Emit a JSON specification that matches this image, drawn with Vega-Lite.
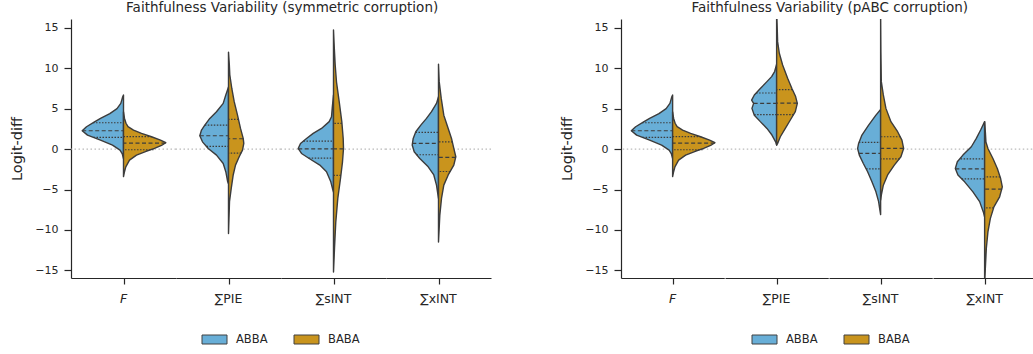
{
"$schema": "https://vega.github.io/schema/vega-lite/v6.json",
"padding": {"left": 9, "top": 0, "right": 0, "bottom": 0},
"background": "white",
"config": {
  "view": {"stroke": null},
  "font": "DejaVu Sans",
  "title": {"fontSize": 13.5, "fontWeight": "normal", "color": "#262626", "anchor": "middle", "offset": 5, "dx": 31.5},
  "axis": {"grid": false, "domainColor": "#262626", "tickColor": "#262626", "labelColor": "#262626", "titleColor": "#262626", "domainWidth": 1.2, "tickWidth": 1.2}
},
"datasets": {"v": [
{"panel":"sym","cat":"F","group":"ABBA","kind":"o","value":6.7,"density":0},
{"panel":"sym","cat":"F","group":"ABBA","kind":"o","value":6.4,"density":-1},
{"panel":"sym","cat":"F","group":"ABBA","kind":"o","value":5.66,"density":-2.7},
{"panel":"sym","cat":"F","group":"ABBA","kind":"o","value":5.0,"density":-6.5},
{"panel":"sym","cat":"F","group":"ABBA","kind":"o","value":4.4,"density":-13.7},
{"panel":"sym","cat":"F","group":"ABBA","kind":"o","value":3.8,"density":-23},
{"panel":"sym","cat":"F","group":"ABBA","kind":"o","value":3.38,"density":-29},
{"panel":"sym","cat":"F","group":"ABBA","kind":"o","value":2.77,"density":-37},
{"panel":"sym","cat":"F","group":"ABBA","kind":"o","value":2.27,"density":-41.3},
{"panel":"sym","cat":"F","group":"ABBA","kind":"o","value":1.73,"density":-36},
{"panel":"sym","cat":"F","group":"ABBA","kind":"o","value":1.12,"density":-23},
{"panel":"sym","cat":"F","group":"ABBA","kind":"o","value":0.5,"density":-11},
{"panel":"sym","cat":"F","group":"ABBA","kind":"o","value":-0.12,"density":-3.5},
{"panel":"sym","cat":"F","group":"ABBA","kind":"o","value":-0.6,"density":-1.2},
{"panel":"sym","cat":"F","group":"ABBA","kind":"o","value":-1.16,"density":0},
{"panel":"sym","cat":"F","group":"ABBA","kind":"q","value":3.26,"density":-30.5},
{"panel":"sym","cat":"F","group":"ABBA","kind":"med","value":2.27,"density":-41.3},
{"panel":"sym","cat":"F","group":"ABBA","kind":"q","value":1.45,"density":-30},
{"panel":"sym","cat":"F","group":"BABA","kind":"o","value":4.6,"density":0},
{"panel":"sym","cat":"F","group":"BABA","kind":"o","value":3.8,"density":1},
{"panel":"sym","cat":"F","group":"BABA","kind":"o","value":3.2,"density":2.5},
{"panel":"sym","cat":"F","group":"BABA","kind":"o","value":2.77,"density":4.5},
{"panel":"sym","cat":"F","group":"BABA","kind":"o","value":2.36,"density":10},
{"panel":"sym","cat":"F","group":"BABA","kind":"o","value":1.94,"density":18},
{"panel":"sym","cat":"F","group":"BABA","kind":"o","value":1.53,"density":28},
{"panel":"sym","cat":"F","group":"BABA","kind":"o","value":1.12,"density":37},
{"panel":"sym","cat":"F","group":"BABA","kind":"o","value":0.79,"density":42.3},
{"panel":"sym","cat":"F","group":"BABA","kind":"o","value":0.45,"density":38},
{"panel":"sym","cat":"F","group":"BABA","kind":"o","value":0.1,"density":31},
{"panel":"sym","cat":"F","group":"BABA","kind":"o","value":-0.3,"density":22},
{"panel":"sym","cat":"F","group":"BABA","kind":"o","value":-0.74,"density":13},
{"panel":"sym","cat":"F","group":"BABA","kind":"o","value":-1.36,"density":6},
{"panel":"sym","cat":"F","group":"BABA","kind":"o","value":-2.19,"density":2.3},
{"panel":"sym","cat":"F","group":"BABA","kind":"o","value":-2.8,"density":1},
{"panel":"sym","cat":"F","group":"BABA","kind":"o","value":-3.4,"density":0},
{"panel":"sym","cat":"F","group":"BABA","kind":"q","value":1.55,"density":28.5},
{"panel":"sym","cat":"F","group":"BABA","kind":"med","value":0.75,"density":42},
{"panel":"sym","cat":"F","group":"BABA","kind":"q","value":-0.08,"density":30},
{"panel":"sym","cat":"∑PIE","group":"ABBA","kind":"o","value":7.7,"density":0},
{"panel":"sym","cat":"∑PIE","group":"ABBA","kind":"o","value":6.7,"density":-2.7},
{"panel":"sym","cat":"∑PIE","group":"ABBA","kind":"o","value":5.66,"density":-5.3},
{"panel":"sym","cat":"∑PIE","group":"ABBA","kind":"o","value":4.63,"density":-12},
{"panel":"sym","cat":"∑PIE","group":"ABBA","kind":"o","value":3.8,"density":-18.7},
{"panel":"sym","cat":"∑PIE","group":"ABBA","kind":"o","value":2.97,"density":-23.7},
{"panel":"sym","cat":"∑PIE","group":"ABBA","kind":"o","value":2.36,"density":-27},
{"panel":"sym","cat":"∑PIE","group":"ABBA","kind":"o","value":1.65,"density":-28.7},
{"panel":"sym","cat":"∑PIE","group":"ABBA","kind":"o","value":0.9,"density":-26},
{"panel":"sym","cat":"∑PIE","group":"ABBA","kind":"o","value":0.08,"density":-20.3},
{"panel":"sym","cat":"∑PIE","group":"ABBA","kind":"o","value":-0.74,"density":-12},
{"panel":"sym","cat":"∑PIE","group":"ABBA","kind":"o","value":-1.78,"density":-5.3},
{"panel":"sym","cat":"∑PIE","group":"ABBA","kind":"o","value":-2.8,"density":-2.7},
{"panel":"sym","cat":"∑PIE","group":"ABBA","kind":"o","value":-4.05,"density":-0.8},
{"panel":"sym","cat":"∑PIE","group":"ABBA","kind":"o","value":-4.3,"density":0},
{"panel":"sym","cat":"∑PIE","group":"ABBA","kind":"q","value":2.97,"density":-23.7},
{"panel":"sym","cat":"∑PIE","group":"ABBA","kind":"med","value":1.65,"density":-28.7},
{"panel":"sym","cat":"∑PIE","group":"ABBA","kind":"q","value":0.33,"density":-22},
{"panel":"sym","cat":"∑PIE","group":"BABA","kind":"o","value":12.0,"density":0},
{"panel":"sym","cat":"∑PIE","group":"BABA","kind":"o","value":10.5,"density":0.8},
{"panel":"sym","cat":"∑PIE","group":"BABA","kind":"o","value":9.2,"density":1.3},
{"panel":"sym","cat":"∑PIE","group":"BABA","kind":"o","value":7.5,"density":3.3},
{"panel":"sym","cat":"∑PIE","group":"BABA","kind":"o","value":5.87,"density":5.7},
{"panel":"sym","cat":"∑PIE","group":"BABA","kind":"o","value":4.2,"density":9},
{"panel":"sym","cat":"∑PIE","group":"BABA","kind":"o","value":2.56,"density":12},
{"panel":"sym","cat":"∑PIE","group":"BABA","kind":"o","value":1.32,"density":14.7},
{"panel":"sym","cat":"∑PIE","group":"BABA","kind":"o","value":0.7,"density":15.3},
{"panel":"sym","cat":"∑PIE","group":"BABA","kind":"o","value":-0.12,"density":14},
{"panel":"sym","cat":"∑PIE","group":"BABA","kind":"o","value":-0.95,"density":10.7},
{"panel":"sym","cat":"∑PIE","group":"BABA","kind":"o","value":-1.98,"density":7},
{"panel":"sym","cat":"∑PIE","group":"BABA","kind":"o","value":-3.2,"density":4.7},
{"panel":"sym","cat":"∑PIE","group":"BABA","kind":"o","value":-4.9,"density":2.7},
{"panel":"sym","cat":"∑PIE","group":"BABA","kind":"o","value":-6.5,"density":1},
{"panel":"sym","cat":"∑PIE","group":"BABA","kind":"o","value":-8.5,"density":0.5},
{"panel":"sym","cat":"∑PIE","group":"BABA","kind":"o","value":-10.45,"density":0},
{"panel":"sym","cat":"∑PIE","group":"BABA","kind":"q","value":3.68,"density":10},
{"panel":"sym","cat":"∑PIE","group":"BABA","kind":"med","value":1.28,"density":14.7},
{"panel":"sym","cat":"∑PIE","group":"BABA","kind":"q","value":-0.5,"density":12.7},
{"panel":"sym","cat":"∑sINT","group":"ABBA","kind":"o","value":6.7,"density":0},
{"panel":"sym","cat":"∑sINT","group":"ABBA","kind":"o","value":5.04,"density":-1.3},
{"panel":"sym","cat":"∑sINT","group":"ABBA","kind":"o","value":4.0,"density":-2},
{"panel":"sym","cat":"∑sINT","group":"ABBA","kind":"o","value":3.4,"density":-4.3},
{"panel":"sym","cat":"∑sINT","group":"ABBA","kind":"o","value":2.56,"density":-12},
{"panel":"sym","cat":"∑sINT","group":"ABBA","kind":"o","value":1.94,"density":-20.3},
{"panel":"sym","cat":"∑sINT","group":"ABBA","kind":"o","value":1.32,"density":-27},
{"panel":"sym","cat":"∑sINT","group":"ABBA","kind":"o","value":0.7,"density":-33},
{"panel":"sym","cat":"∑sINT","group":"ABBA","kind":"o","value":0.08,"density":-35.3},
{"panel":"sym","cat":"∑sINT","group":"ABBA","kind":"o","value":-0.54,"density":-32},
{"panel":"sym","cat":"∑sINT","group":"ABBA","kind":"o","value":-1.16,"density":-24.3},
{"panel":"sym","cat":"∑sINT","group":"ABBA","kind":"o","value":-1.98,"density":-13.7},
{"panel":"sym","cat":"∑sINT","group":"ABBA","kind":"o","value":-2.8,"density":-7},
{"panel":"sym","cat":"∑sINT","group":"ABBA","kind":"o","value":-4.05,"density":-2.7},
{"panel":"sym","cat":"∑sINT","group":"ABBA","kind":"o","value":-4.9,"density":-1},
{"panel":"sym","cat":"∑sINT","group":"ABBA","kind":"o","value":-5.3,"density":0},
{"panel":"sym","cat":"∑sINT","group":"ABBA","kind":"q","value":0.99,"density":-30},
{"panel":"sym","cat":"∑sINT","group":"ABBA","kind":"med","value":0.04,"density":-35.3},
{"panel":"sym","cat":"∑sINT","group":"ABBA","kind":"q","value":-1.12,"density":-24.8},
{"panel":"sym","cat":"∑sINT","group":"BABA","kind":"o","value":14.75,"density":0},
{"panel":"sym","cat":"∑sINT","group":"BABA","kind":"o","value":12.5,"density":0.8},
{"panel":"sym","cat":"∑sINT","group":"BABA","kind":"o","value":10.4,"density":1.7},
{"panel":"sym","cat":"∑sINT","group":"BABA","kind":"o","value":8.3,"density":3},
{"panel":"sym","cat":"∑sINT","group":"BABA","kind":"o","value":5.87,"density":5.7},
{"panel":"sym","cat":"∑sINT","group":"BABA","kind":"o","value":3.4,"density":8.3},
{"panel":"sym","cat":"∑sINT","group":"BABA","kind":"o","value":1.32,"density":9.7},
{"panel":"sym","cat":"∑sINT","group":"BABA","kind":"o","value":0.08,"density":10},
{"panel":"sym","cat":"∑sINT","group":"BABA","kind":"o","value":-1.57,"density":9},
{"panel":"sym","cat":"∑sINT","group":"BABA","kind":"o","value":-3.64,"density":7},
{"panel":"sym","cat":"∑sINT","group":"BABA","kind":"o","value":-6.1,"density":4.3},
{"panel":"sym","cat":"∑sINT","group":"BABA","kind":"o","value":-9.0,"density":2.3},
{"panel":"sym","cat":"∑sINT","group":"BABA","kind":"o","value":-12.3,"density":1},
{"panel":"sym","cat":"∑sINT","group":"BABA","kind":"o","value":-15.2,"density":0},
{"panel":"sym","cat":"∑sINT","group":"BABA","kind":"q","value":3.18,"density":8.4},
{"panel":"sym","cat":"∑sINT","group":"BABA","kind":"med","value":0.04,"density":10},
{"panel":"sym","cat":"∑sINT","group":"BABA","kind":"q","value":-3.26,"density":7.4},
{"panel":"sym","cat":"∑xINT","group":"ABBA","kind":"o","value":6.5,"density":0},
{"panel":"sym","cat":"∑xINT","group":"ABBA","kind":"o","value":5.66,"density":-2},
{"panel":"sym","cat":"∑xINT","group":"ABBA","kind":"o","value":4.63,"density":-7},
{"panel":"sym","cat":"∑xINT","group":"ABBA","kind":"o","value":3.8,"density":-12},
{"panel":"sym","cat":"∑xINT","group":"ABBA","kind":"o","value":2.97,"density":-17.7},
{"panel":"sym","cat":"∑xINT","group":"ABBA","kind":"o","value":2.15,"density":-22.7},
{"panel":"sym","cat":"∑xINT","group":"ABBA","kind":"o","value":1.32,"density":-25.3},
{"panel":"sym","cat":"∑xINT","group":"ABBA","kind":"o","value":0.5,"density":-26.3},
{"panel":"sym","cat":"∑xINT","group":"ABBA","kind":"o","value":-0.33,"density":-24.3},
{"panel":"sym","cat":"∑xINT","group":"ABBA","kind":"o","value":-1.16,"density":-18.7},
{"panel":"sym","cat":"∑xINT","group":"ABBA","kind":"o","value":-2.19,"density":-10.3},
{"panel":"sym","cat":"∑xINT","group":"ABBA","kind":"o","value":-3.2,"density":-4.7},
{"panel":"sym","cat":"∑xINT","group":"ABBA","kind":"o","value":-4.46,"density":-2},
{"panel":"sym","cat":"∑xINT","group":"ABBA","kind":"o","value":-5.3,"density":-1},
{"panel":"sym","cat":"∑xINT","group":"ABBA","kind":"o","value":-6.1,"density":0},
{"panel":"sym","cat":"∑xINT","group":"ABBA","kind":"q","value":2.07,"density":-23},
{"panel":"sym","cat":"∑xINT","group":"ABBA","kind":"med","value":0.7,"density":-26.2},
{"panel":"sym","cat":"∑xINT","group":"ABBA","kind":"q","value":-0.7,"density":-22},
{"panel":"sym","cat":"∑xINT","group":"BABA","kind":"o","value":10.5,"density":0},
{"panel":"sym","cat":"∑xINT","group":"BABA","kind":"o","value":8.35,"density":0.7},
{"panel":"sym","cat":"∑xINT","group":"BABA","kind":"o","value":6.3,"density":2.7},
{"panel":"sym","cat":"∑xINT","group":"BABA","kind":"o","value":4.2,"density":5.3},
{"panel":"sym","cat":"∑xINT","group":"BABA","kind":"o","value":2.56,"density":9.7},
{"panel":"sym","cat":"∑xINT","group":"BABA","kind":"o","value":1.32,"density":13},
{"panel":"sym","cat":"∑xINT","group":"BABA","kind":"o","value":0.08,"density":15.3},
{"panel":"sym","cat":"∑xINT","group":"BABA","kind":"o","value":-0.95,"density":17.3},
{"panel":"sym","cat":"∑xINT","group":"BABA","kind":"o","value":-1.98,"density":15.3},
{"panel":"sym","cat":"∑xINT","group":"BABA","kind":"o","value":-3.2,"density":9.7},
{"panel":"sym","cat":"∑xINT","group":"BABA","kind":"o","value":-4.46,"density":5.3},
{"panel":"sym","cat":"∑xINT","group":"BABA","kind":"o","value":-6.1,"density":3},
{"panel":"sym","cat":"∑xINT","group":"BABA","kind":"o","value":-8.2,"density":1.3},
{"panel":"sym","cat":"∑xINT","group":"BABA","kind":"o","value":-10,"density":0.6},
{"panel":"sym","cat":"∑xINT","group":"BABA","kind":"o","value":-11.5,"density":0},
{"panel":"sym","cat":"∑xINT","group":"BABA","kind":"q","value":0.9,"density":14},
{"panel":"sym","cat":"∑xINT","group":"BABA","kind":"med","value":-1.03,"density":17.3},
{"panel":"sym","cat":"∑xINT","group":"BABA","kind":"q","value":-2.77,"density":11.7},
{"panel":"pabc","cat":"F","group":"ABBA","kind":"o","value":6.7,"density":0},
{"panel":"pabc","cat":"F","group":"ABBA","kind":"o","value":6.4,"density":-1},
{"panel":"pabc","cat":"F","group":"ABBA","kind":"o","value":5.66,"density":-2.7},
{"panel":"pabc","cat":"F","group":"ABBA","kind":"o","value":5.0,"density":-6.5},
{"panel":"pabc","cat":"F","group":"ABBA","kind":"o","value":4.4,"density":-13.7},
{"panel":"pabc","cat":"F","group":"ABBA","kind":"o","value":3.8,"density":-23},
{"panel":"pabc","cat":"F","group":"ABBA","kind":"o","value":3.38,"density":-29},
{"panel":"pabc","cat":"F","group":"ABBA","kind":"o","value":2.77,"density":-37},
{"panel":"pabc","cat":"F","group":"ABBA","kind":"o","value":2.27,"density":-41.3},
{"panel":"pabc","cat":"F","group":"ABBA","kind":"o","value":1.73,"density":-36},
{"panel":"pabc","cat":"F","group":"ABBA","kind":"o","value":1.12,"density":-23},
{"panel":"pabc","cat":"F","group":"ABBA","kind":"o","value":0.5,"density":-11},
{"panel":"pabc","cat":"F","group":"ABBA","kind":"o","value":-0.12,"density":-3.5},
{"panel":"pabc","cat":"F","group":"ABBA","kind":"o","value":-0.6,"density":-1.2},
{"panel":"pabc","cat":"F","group":"ABBA","kind":"o","value":-1.16,"density":0},
{"panel":"pabc","cat":"F","group":"ABBA","kind":"q","value":3.26,"density":-30.5},
{"panel":"pabc","cat":"F","group":"ABBA","kind":"med","value":2.27,"density":-41.3},
{"panel":"pabc","cat":"F","group":"ABBA","kind":"q","value":1.45,"density":-30},
{"panel":"pabc","cat":"F","group":"BABA","kind":"o","value":4.6,"density":0},
{"panel":"pabc","cat":"F","group":"BABA","kind":"o","value":3.8,"density":1},
{"panel":"pabc","cat":"F","group":"BABA","kind":"o","value":3.2,"density":2.5},
{"panel":"pabc","cat":"F","group":"BABA","kind":"o","value":2.77,"density":4.5},
{"panel":"pabc","cat":"F","group":"BABA","kind":"o","value":2.36,"density":10},
{"panel":"pabc","cat":"F","group":"BABA","kind":"o","value":1.94,"density":18},
{"panel":"pabc","cat":"F","group":"BABA","kind":"o","value":1.53,"density":28},
{"panel":"pabc","cat":"F","group":"BABA","kind":"o","value":1.12,"density":37},
{"panel":"pabc","cat":"F","group":"BABA","kind":"o","value":0.79,"density":42.3},
{"panel":"pabc","cat":"F","group":"BABA","kind":"o","value":0.45,"density":38},
{"panel":"pabc","cat":"F","group":"BABA","kind":"o","value":0.1,"density":31},
{"panel":"pabc","cat":"F","group":"BABA","kind":"o","value":-0.3,"density":22},
{"panel":"pabc","cat":"F","group":"BABA","kind":"o","value":-0.74,"density":13},
{"panel":"pabc","cat":"F","group":"BABA","kind":"o","value":-1.36,"density":6},
{"panel":"pabc","cat":"F","group":"BABA","kind":"o","value":-2.19,"density":2.3},
{"panel":"pabc","cat":"F","group":"BABA","kind":"o","value":-2.8,"density":1},
{"panel":"pabc","cat":"F","group":"BABA","kind":"o","value":-3.4,"density":0},
{"panel":"pabc","cat":"F","group":"BABA","kind":"q","value":1.55,"density":28.5},
{"panel":"pabc","cat":"F","group":"BABA","kind":"med","value":0.75,"density":42},
{"panel":"pabc","cat":"F","group":"BABA","kind":"q","value":-0.08,"density":30},
{"panel":"pabc","cat":"∑PIE","group":"ABBA","kind":"o","value":10.5,"density":0},
{"panel":"pabc","cat":"∑PIE","group":"ABBA","kind":"o","value":9.6,"density":-2},
{"panel":"pabc","cat":"∑PIE","group":"ABBA","kind":"o","value":8.97,"density":-5},
{"panel":"pabc","cat":"∑PIE","group":"ABBA","kind":"o","value":8.35,"density":-9.7},
{"panel":"pabc","cat":"∑PIE","group":"ABBA","kind":"o","value":7.5,"density":-16.3},
{"panel":"pabc","cat":"∑PIE","group":"ABBA","kind":"o","value":6.7,"density":-22.3},
{"panel":"pabc","cat":"∑PIE","group":"ABBA","kind":"o","value":6.07,"density":-25},
{"panel":"pabc","cat":"∑PIE","group":"ABBA","kind":"o","value":5.66,"density":-23},
{"panel":"pabc","cat":"∑PIE","group":"ABBA","kind":"o","value":5.04,"density":-24.7},
{"panel":"pabc","cat":"∑PIE","group":"ABBA","kind":"o","value":4.2,"density":-22.3},
{"panel":"pabc","cat":"∑PIE","group":"ABBA","kind":"o","value":3.4,"density":-16.3},
{"panel":"pabc","cat":"∑PIE","group":"ABBA","kind":"o","value":2.56,"density":-9.7},
{"panel":"pabc","cat":"∑PIE","group":"ABBA","kind":"o","value":1.74,"density":-4.7},
{"panel":"pabc","cat":"∑PIE","group":"ABBA","kind":"o","value":0.9,"density":-1},
{"panel":"pabc","cat":"∑PIE","group":"ABBA","kind":"o","value":0.5,"density":0},
{"panel":"pabc","cat":"∑PIE","group":"ABBA","kind":"q","value":6.94,"density":-20.5},
{"panel":"pabc","cat":"∑PIE","group":"ABBA","kind":"med","value":5.66,"density":-23},
{"panel":"pabc","cat":"∑PIE","group":"ABBA","kind":"q","value":4.26,"density":-22.5},
{"panel":"pabc","cat":"∑PIE","group":"BABA","kind":"o","value":17,"density":0},
{"panel":"pabc","cat":"∑PIE","group":"BABA","kind":"o","value":16.2,"density":0.3},
{"panel":"pabc","cat":"∑PIE","group":"BABA","kind":"o","value":13.3,"density":1},
{"panel":"pabc","cat":"∑PIE","group":"BABA","kind":"o","value":11.86,"density":2.7},
{"panel":"pabc","cat":"∑PIE","group":"BABA","kind":"o","value":10.4,"density":6},
{"panel":"pabc","cat":"∑PIE","group":"BABA","kind":"o","value":8.76,"density":11},
{"panel":"pabc","cat":"∑PIE","group":"BABA","kind":"o","value":7.5,"density":15.3},
{"panel":"pabc","cat":"∑PIE","group":"BABA","kind":"o","value":6.5,"density":19},
{"panel":"pabc","cat":"∑PIE","group":"BABA","kind":"o","value":5.66,"density":20.7},
{"panel":"pabc","cat":"∑PIE","group":"BABA","kind":"o","value":4.63,"density":18.7},
{"panel":"pabc","cat":"∑PIE","group":"BABA","kind":"o","value":3.6,"density":13.7},
{"panel":"pabc","cat":"∑PIE","group":"BABA","kind":"o","value":2.56,"density":8.7},
{"panel":"pabc","cat":"∑PIE","group":"BABA","kind":"o","value":1.53,"density":3.7},
{"panel":"pabc","cat":"∑PIE","group":"BABA","kind":"o","value":0.7,"density":1},
{"panel":"pabc","cat":"∑PIE","group":"BABA","kind":"o","value":0.5,"density":0},
{"panel":"pabc","cat":"∑PIE","group":"BABA","kind":"q","value":7.36,"density":15.8},
{"panel":"pabc","cat":"∑PIE","group":"BABA","kind":"med","value":5.7,"density":20.7},
{"panel":"pabc","cat":"∑PIE","group":"BABA","kind":"q","value":4.26,"density":17},
{"panel":"pabc","cat":"∑sINT","group":"ABBA","kind":"o","value":4.9,"density":0},
{"panel":"pabc","cat":"∑sINT","group":"ABBA","kind":"o","value":4.2,"density":-4.7},
{"panel":"pabc","cat":"∑sINT","group":"ABBA","kind":"o","value":2.97,"density":-12},
{"panel":"pabc","cat":"∑sINT","group":"ABBA","kind":"o","value":1.74,"density":-18.7},
{"panel":"pabc","cat":"∑sINT","group":"ABBA","kind":"o","value":0.7,"density":-22},
{"panel":"pabc","cat":"∑sINT","group":"ABBA","kind":"o","value":0.08,"density":-23},
{"panel":"pabc","cat":"∑sINT","group":"ABBA","kind":"o","value":-0.74,"density":-21.3},
{"panel":"pabc","cat":"∑sINT","group":"ABBA","kind":"o","value":-1.78,"density":-17.3},
{"panel":"pabc","cat":"∑sINT","group":"ABBA","kind":"o","value":-2.8,"density":-13},
{"panel":"pabc","cat":"∑sINT","group":"ABBA","kind":"o","value":-4.05,"density":-8.7},
{"panel":"pabc","cat":"∑sINT","group":"ABBA","kind":"o","value":-5.29,"density":-4.7},
{"panel":"pabc","cat":"∑sINT","group":"ABBA","kind":"o","value":-6.5,"density":-2},
{"panel":"pabc","cat":"∑sINT","group":"ABBA","kind":"o","value":-7.5,"density":-0.8},
{"panel":"pabc","cat":"∑sINT","group":"ABBA","kind":"o","value":-8.1,"density":0},
{"panel":"pabc","cat":"∑sINT","group":"ABBA","kind":"q","value":0.83,"density":-21.8},
{"panel":"pabc","cat":"∑sINT","group":"ABBA","kind":"med","value":-0.54,"density":-21.8},
{"panel":"pabc","cat":"∑sINT","group":"ABBA","kind":"q","value":-2.44,"density":-14.5},
{"panel":"pabc","cat":"∑sINT","group":"BABA","kind":"o","value":17,"density":0},
{"panel":"pabc","cat":"∑sINT","group":"BABA","kind":"o","value":12,"density":0.3},
{"panel":"pabc","cat":"∑sINT","group":"BABA","kind":"o","value":8.35,"density":0.7},
{"panel":"pabc","cat":"∑sINT","group":"BABA","kind":"o","value":6.7,"density":2.7},
{"panel":"pabc","cat":"∑sINT","group":"BABA","kind":"o","value":5.04,"density":5.3},
{"panel":"pabc","cat":"∑sINT","group":"BABA","kind":"o","value":3.4,"density":10.3},
{"panel":"pabc","cat":"∑sINT","group":"BABA","kind":"o","value":2.15,"density":17},
{"panel":"pabc","cat":"∑sINT","group":"BABA","kind":"o","value":1.12,"density":21.3},
{"panel":"pabc","cat":"∑sINT","group":"BABA","kind":"o","value":0.08,"density":23},
{"panel":"pabc","cat":"∑sINT","group":"BABA","kind":"o","value":-0.95,"density":20.3},
{"panel":"pabc","cat":"∑sINT","group":"BABA","kind":"o","value":-1.98,"density":13.7},
{"panel":"pabc","cat":"∑sINT","group":"BABA","kind":"o","value":-3.2,"density":7},
{"panel":"pabc","cat":"∑sINT","group":"BABA","kind":"o","value":-4.46,"density":2.7},
{"panel":"pabc","cat":"∑sINT","group":"BABA","kind":"o","value":-5.7,"density":0.7},
{"panel":"pabc","cat":"∑sINT","group":"BABA","kind":"o","value":-6.3,"density":0},
{"panel":"pabc","cat":"∑sINT","group":"BABA","kind":"q","value":1.53,"density":19.8},
{"panel":"pabc","cat":"∑sINT","group":"BABA","kind":"med","value":0.08,"density":23},
{"panel":"pabc","cat":"∑sINT","group":"BABA","kind":"q","value":-1.2,"density":19},
{"panel":"pabc","cat":"∑xINT","group":"ABBA","kind":"o","value":3.4,"density":0},
{"panel":"pabc","cat":"∑xINT","group":"ABBA","kind":"o","value":2.36,"density":-4},
{"panel":"pabc","cat":"∑xINT","group":"ABBA","kind":"o","value":1.32,"density":-8.3},
{"panel":"pabc","cat":"∑xINT","group":"ABBA","kind":"o","value":0.29,"density":-13.3},
{"panel":"pabc","cat":"∑xINT","group":"ABBA","kind":"o","value":-0.74,"density":-21.7},
{"panel":"pabc","cat":"∑xINT","group":"ABBA","kind":"o","value":-1.57,"density":-27.3},
{"panel":"pabc","cat":"∑xINT","group":"ABBA","kind":"o","value":-2.4,"density":-29.3},
{"panel":"pabc","cat":"∑xINT","group":"ABBA","kind":"o","value":-3.2,"density":-26.7},
{"panel":"pabc","cat":"∑xINT","group":"ABBA","kind":"o","value":-4.05,"density":-20},
{"panel":"pabc","cat":"∑xINT","group":"ABBA","kind":"o","value":-5.29,"density":-11.7},
{"panel":"pabc","cat":"∑xINT","group":"ABBA","kind":"o","value":-6.5,"density":-5},
{"panel":"pabc","cat":"∑xINT","group":"ABBA","kind":"o","value":-7.77,"density":-1.3},
{"panel":"pabc","cat":"∑xINT","group":"ABBA","kind":"o","value":-8.4,"density":0},
{"panel":"pabc","cat":"∑xINT","group":"ABBA","kind":"q","value":-1.2,"density":-24},
{"panel":"pabc","cat":"∑xINT","group":"ABBA","kind":"med","value":-2.44,"density":-29.3},
{"panel":"pabc","cat":"∑xINT","group":"ABBA","kind":"q","value":-3.68,"density":-23},
{"panel":"pabc","cat":"∑xINT","group":"BABA","kind":"o","value":3.4,"density":0},
{"panel":"pabc","cat":"∑xINT","group":"BABA","kind":"o","value":2.0,"density":0.8},
{"panel":"pabc","cat":"∑xINT","group":"BABA","kind":"o","value":0.9,"density":1.3},
{"panel":"pabc","cat":"∑xINT","group":"BABA","kind":"o","value":0.08,"density":3.3},
{"panel":"pabc","cat":"∑xINT","group":"BABA","kind":"o","value":-1.16,"density":8.3},
{"panel":"pabc","cat":"∑xINT","group":"BABA","kind":"o","value":-2.4,"density":12.7},
{"panel":"pabc","cat":"∑xINT","group":"BABA","kind":"o","value":-3.64,"density":16},
{"panel":"pabc","cat":"∑xINT","group":"BABA","kind":"o","value":-4.67,"density":17.7},
{"panel":"pabc","cat":"∑xINT","group":"BABA","kind":"o","value":-5.9,"density":15},
{"panel":"pabc","cat":"∑xINT","group":"BABA","kind":"o","value":-7.15,"density":9.3},
{"panel":"pabc","cat":"∑xINT","group":"BABA","kind":"o","value":-8.6,"density":5.7},
{"panel":"pabc","cat":"∑xINT","group":"BABA","kind":"o","value":-10.25,"density":3.3},
{"panel":"pabc","cat":"∑xINT","group":"BABA","kind":"o","value":-12.3,"density":1.7},
{"panel":"pabc","cat":"∑xINT","group":"BABA","kind":"o","value":-14.8,"density":0.7},
{"panel":"pabc","cat":"∑xINT","group":"BABA","kind":"o","value":-17,"density":0},
{"panel":"pabc","cat":"∑xINT","group":"BABA","kind":"q","value":-3.43,"density":15.5},
{"panel":"pabc","cat":"∑xINT","group":"BABA","kind":"med","value":-4.96,"density":17.5},
{"panel":"pabc","cat":"∑xINT","group":"BABA","kind":"q","value":-7.27,"density":9}
]},
"data": {"name": "v"},
"resolve": {"scale": {"x": "independent", "y": "independent", "color": "independent"}, "legend": {"color": "independent"}},
"spacing": 67,
"hconcat": [
 {
  "title": {"text": "Faithfulness Variability (symmetric corruption)"},
  "transform": [{"filter": "datum.panel == 'sym'"}],
  "bounds": "flush",
  "facet": {"column": {"field": "cat", "type": "nominal", "sort": ["F", "∑PIE", "∑sINT", "∑xINT"], "title": null,
    "header": {"labelOrient": "bottom", "labelPadding": 8, "labelFontSize": 12.5, "labelColor": "#262626", "labelFontStyle": {"expr": "parent.cat == 'F' ? 'italic' : 'normal'"}}}},
  "spacing": {"column": 0},
  "spec": {
   "width": 105, "height": 259,
   "layer": [
    {"transform": [{"filter": "datum.kind == 'med' && datum.group == 'ABBA'"}],
     "mark": {"type": "rule", "strokeDash": [1.5, 2.5], "color": "#a8a8a8", "strokeWidth": 1},
     "encoding": {"y": {"datum": 0, "type": "quantitative"}}},
    {"transform": [{"filter": "datum.kind == 'o'"}],
     "mark": {"type": "area", "orient": "horizontal", "stroke": "#3c3c3c", "strokeWidth": 1.4, "opacity": 1, "clip": true, "strokeJoin": "round"},
     "encoding": {
      "y": {"field": "value", "type": "quantitative", "scale": {"domain": [-15.95, 16.1], "nice": false, "zero": false},
            "axis": {"title": "Logit-diff", "values": [-15, -10, -5, 0, 5, 10, 15], "tickSize": 7, "labelPadding": 6, "labelFontSize": 11, "titleFontSize": 14.5, "titleFontWeight": "normal", "titlePadding": 10}},
      "x": {"field": "density", "type": "quantitative", "stack": null, "scale": {"domain": [-52.5, 52.5], "nice": false, "zero": false},
            "axis": {"title": null, "labels": false, "values": [0], "tickSize": 6, "domain": true}},
      "x2": {"datum": 0},
      "color": {"field": "group", "type": "nominal", "scale": {"domain": ["ABBA", "BABA"], "range": ["#68AED7", "#C9941D"]},
                "legend": {"title": null, "orient": "none", "legendX": 133, "legendY": 310, "direction": "horizontal", "labelFontSize": 11.5, "labelColor": "#262626", "symbolType": "M-1.25,-0.45H1.25V0.45H-1.25Z", "symbolSize": 400, "symbolStrokeColor": "#404040", "symbolStrokeWidth": 1, "symbolOpacity": 1, "labelOffset": 11, "columnPadding": 24}}
     }},
    {"transform": [{"filter": "datum.kind == 'med'"}],
     "mark": {"type": "rule", "strokeDash": [4, 2.5], "color": "#3c3c3c", "strokeWidth": 1.2},
     "encoding": {"y": {"field": "value", "type": "quantitative"}, "x": {"field": "density", "type": "quantitative"}, "x2": {"datum": 0}}},
    {"transform": [{"filter": "datum.kind == 'q'"}],
     "mark": {"type": "rule", "strokeDash": [1.5, 1.5], "color": "#3c3c3c", "strokeWidth": 1.2},
     "encoding": {"y": {"field": "value", "type": "quantitative"}, "x": {"field": "density", "type": "quantitative"}, "x2": {"datum": 0}}}
   ]
  }
 },
 {
  "title": {"text": "Faithfulness Variability (pABC corruption)"},
  "transform": [{"filter": "datum.panel == 'pabc'"}],
  "bounds": "flush",
  "facet": {"column": {"field": "cat", "type": "nominal", "sort": ["F", "∑PIE", "∑sINT", "∑xINT"], "title": null,
    "header": {"labelOrient": "bottom", "labelPadding": 8, "labelFontSize": 12.5, "labelColor": "#262626", "labelFontStyle": {"expr": "parent.cat == 'F' ? 'italic' : 'normal'"}}}},
  "spacing": {"column": 0},
  "spec": {
   "width": 103.25, "height": 259,
   "layer": [
    {"transform": [{"filter": "datum.kind == 'med' && datum.group == 'ABBA'"}],
     "mark": {"type": "rule", "strokeDash": [1.5, 2.5], "color": "#a8a8a8", "strokeWidth": 1},
     "encoding": {"y": {"datum": 0, "type": "quantitative"}}},
    {"transform": [{"filter": "datum.kind == 'o'"}],
     "mark": {"type": "area", "orient": "horizontal", "stroke": "#3c3c3c", "strokeWidth": 1.4, "opacity": 1, "clip": true, "strokeJoin": "round"},
     "encoding": {
      "y": {"field": "value", "type": "quantitative", "scale": {"domain": [-15.95, 16.1], "nice": false, "zero": false},
            "axis": {"title": "Logit-diff", "values": [-15, -10, -5, 0, 5, 10, 15], "tickSize": 7, "labelPadding": 6, "labelFontSize": 11, "titleFontSize": 14.5, "titleFontWeight": "normal", "titlePadding": 10}},
      "x": {"field": "density", "type": "quantitative", "stack": null, "scale": {"domain": [-51.625, 51.625], "nice": false, "zero": false},
            "axis": {"title": null, "labels": false, "values": [0], "tickSize": 6, "domain": true}},
      "x2": {"datum": 0},
      "color": {"field": "group", "type": "nominal", "scale": {"domain": ["ABBA", "BABA"], "range": ["#68AED7", "#C9941D"]},
                "legend": {"title": null, "orient": "none", "legendX": 133, "legendY": 310, "direction": "horizontal", "labelFontSize": 11.5, "labelColor": "#262626", "symbolType": "M-1.25,-0.45H1.25V0.45H-1.25Z", "symbolSize": 400, "symbolStrokeColor": "#404040", "symbolStrokeWidth": 1, "symbolOpacity": 1, "labelOffset": 11, "columnPadding": 24}}
     }},
    {"transform": [{"filter": "datum.kind == 'med'"}],
     "mark": {"type": "rule", "strokeDash": [4, 2.5], "color": "#3c3c3c", "strokeWidth": 1.2},
     "encoding": {"y": {"field": "value", "type": "quantitative"}, "x": {"field": "density", "type": "quantitative"}, "x2": {"datum": 0}}},
    {"transform": [{"filter": "datum.kind == 'q'"}],
     "mark": {"type": "rule", "strokeDash": [1.5, 1.5], "color": "#3c3c3c", "strokeWidth": 1.2},
     "encoding": {"y": {"field": "value", "type": "quantitative"}, "x": {"field": "density", "type": "quantitative"}, "x2": {"datum": 0}}}
   ]
  }
 }
]
}
